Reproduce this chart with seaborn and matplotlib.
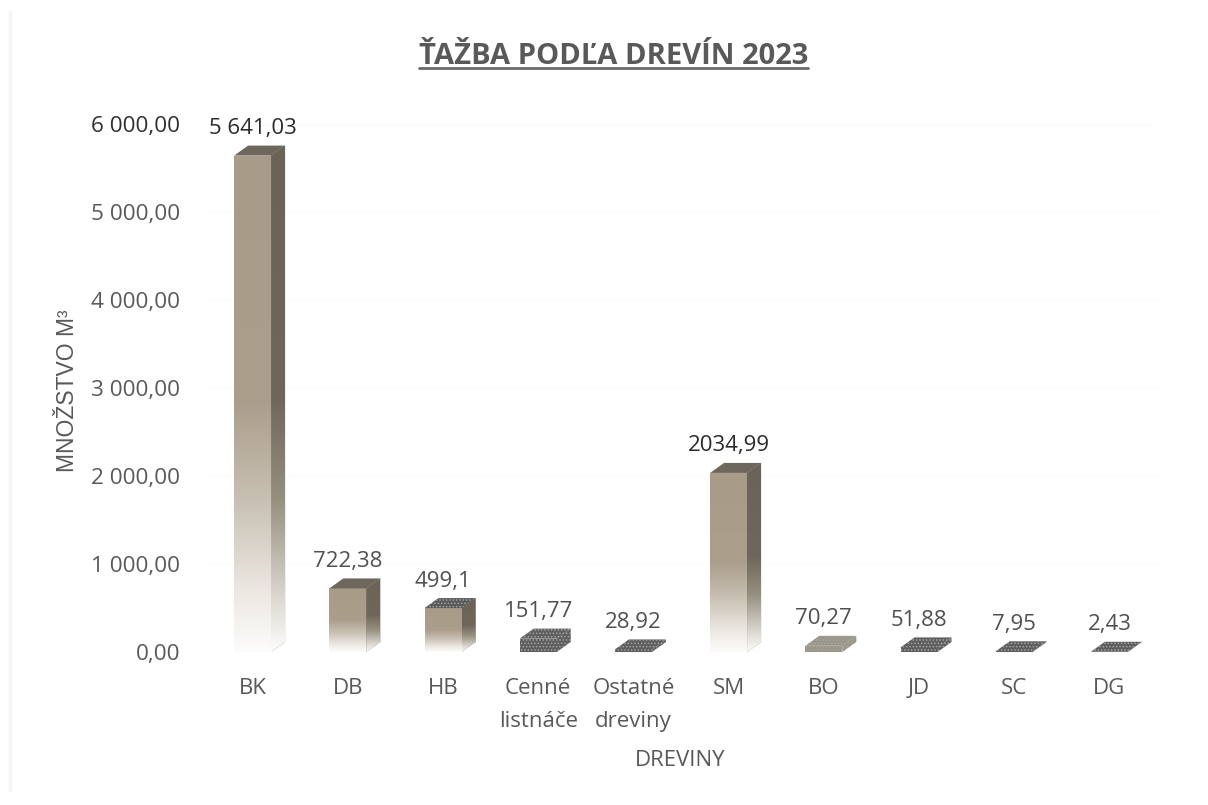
import numpy as np
import pandas as pd
import matplotlib
matplotlib.use('Agg')
import matplotlib.pyplot as plt
import seaborn as sns
from matplotlib.colors import LinearSegmentedColormap
from matplotlib.lines import Line2D
from matplotlib.patches import Polygon

dreviny = ['BK', 'DB', 'HB', 'Cenné\nlistnáče', 'Ostatné\ndreviny', 'SM', 'BO', 'JD', 'SC', 'DG']
mnozstvo = [5641.03, 722.38, 499.1, 151.77, 28.92, 2034.99, 70.27, 51.88, 7.95, 2.43]
popisy = ['5 641,03', '722,38', '499,1', '151,77', '28,92', '2034,99', '70,27', '51,88', '7,95', '2,43']
y_ticks = [0, 1000, 2000, 3000, 4000, 5000, 6000]
y_labels = ['0,00', '1 000,00', '2 000,00', '3 000,00', '4 000,00', '5 000,00', '6 000,00']
# colour of the top face, the small bars look speckled after scanning
top_farby = ['#6e675c', '#6e675c', '#59595a', '#5e5e5e', '#5e5e5e', '#6e675c', '#9a9688', '#5e5e5e', '#5e5e5e', '#5e5e5e']

W, H = 1208, 805
sns.set_theme(style='white')
plt.rcParams['font.family'] = ['Open Sans', 'DejaVu Sans']
plt.rcParams['hatch.linewidth'] = 0.7

df = pd.DataFrame({'drevina': dreviny, 'mnozstvo': mnozstvo})

fig = plt.figure(figsize=(W / 100, H / 100), dpi=100)
ax = fig.add_axes([205 / W, 1 - 652 / H, 952 / W, 528 / H])
sns.barplot(data=df, x='drevina', y='mnozstvo', color='#a89b87', width=37 / 95.2, saturation=1, ax=ax)
ax.set_xlim(-0.5, 9.5)
ax.set_ylim(0, 6000)

# depth of the fake 3D, pixels to data units
dx = 14 / 95.2
dy = 10 / 528 * 6000

front_cm = LinearSegmentedColormap.from_list('front', [(0, '#fdfcfb'), (0.12, '#ece8e2'), (0.3, '#c9c1b4'), (0.5, '#ab9e8b'), (1, '#a89b87')])
side_cm = LinearSegmentedColormap.from_list('side', [(0, '#fcfcfa'), (0.1, '#dedad3'), (0.3, '#96907f'), (0.5, '#6f675b'), (1, '#6b6357')])
grad = np.linspace(1, 0, 256).reshape(-1, 1)

for i, bar in enumerate(ax.patches):
    x0, x1, v = bar.get_x(), bar.get_x() + bar.get_width(), bar.get_height()
    bar.set_linewidth(0)
    small = v < 200
    if small:
        bar.set_facecolor(top_farby[i])
        bar.set_edgecolor('#a5a5a5')
        bar.set_hatch('.....')
    else:
        im = ax.imshow(grad, extent=(x0, x1, 0, v), cmap=front_cm, aspect='auto', zorder=3, vmin=0, vmax=1)
        im.set_clip_path(bar)
    side = Polygon([(x1, 0), (x1 + dx, dy), (x1 + dx, v + dy), (x1, v)], closed=True, facecolor=top_farby[i], linewidth=0, zorder=2.5)
    ax.add_patch(side)
    if small:
        side.set_edgecolor('#a5a5a5')
        side.set_hatch('.....')
    else:
        im2 = ax.imshow(grad, extent=(x1, x1 + dx, 0, v + dy), cmap=side_cm, aspect='auto', zorder=3, vmin=0, vmax=1)
        im2.set_clip_path(side)
    top = Polygon([(x0, v), (x0 + dx, v + dy), (x1 + dx, v + dy), (x1, v)], closed=True, facecolor=top_farby[i], linewidth=0, zorder=3.5)
    ax.add_patch(top)
    if small or i == 2:
        top.set_edgecolor('#a5a5a5')
        top.set_hatch('.....')
    farba = '#2b2b2b' if v > 2000 else '#505050'
    ax.annotate(popisy[i], xy=((x0 + x1) / 2, v + dy), xytext=(0, 17 * 0.72), textcoords='offset points',
                ha='center', va='center', fontsize=16, color=farba, zorder=5)

ax.set_xlim(-0.5, 9.5)
ax.set_ylim(0, 6000)
ax.set_yticks(y_ticks)
ax.set_yticklabels(y_labels)
ax.tick_params(axis='y', length=0, pad=18, labelsize=16.2, labelcolor='#595959')
ax.tick_params(axis='x', length=0, pad=18.5, labelsize=16, labelcolor='#595959')
ax.get_yticklabels()[-1].set_color('#303030')
for lab in ax.get_xticklabels():
    lab.set_linespacing(1.8)
ax.yaxis.grid(True, color='#fbfbfb', linewidth=1)
ax.set_axisbelow(True)
sns.despine(ax=ax, left=True, right=True, top=True, bottom=True)
ax.set_xlabel('')
ax.set_ylabel('')

fig.text(680 / W, 1 - 760 / H, 'DREVINY', ha='center', va='center', fontsize=16, color='#595959')
fig.text(67 / W, 1 - 391 / H, 'MNOŽSTVO M³', ha='center', va='center', rotation=90, fontsize=16.5,
         color='#595959', family=['Liberation Sans', 'DejaVu Sans'])
title = fig.text(613.5 / W, 1 - 56 / H, 'ŤAŽBA PODĽA DREVÍN 2023', ha='center', va='center', fontsize=21,
                 fontweight='bold', color='#595959')

# underline follows the title width
fig.canvas.draw()
bb = title.get_window_extent()
fig.add_artist(Line2D([bb.x0 / W, bb.x1 / W], [1 - 68 / H, 1 - 68 / H], color='#6a6a6a', linewidth=2))
# faint scanner edge on the left
fig.add_artist(Line2D([10 / W, 10 / W], [1 - 790 / H, 1 - 12 / H], color='#f5f5f5', linewidth=2.5))

fig.savefig('out.png', dpi=100)
